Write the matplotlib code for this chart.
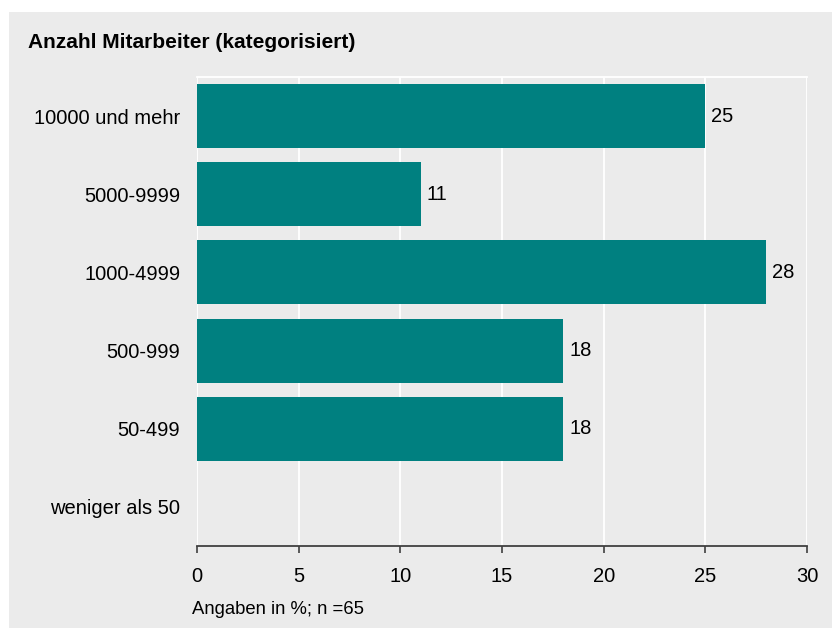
import matplotlib.pyplot as plt
from matplotlib.patches import Rectangle

plt.rcParams['font.family'] = ['Liberation Sans', 'DejaVu Sans']

# data, top to bottom
categories = ["10000 und mehr", "5000-9999", "1000-4999", "500-999", "50-499", "weniger als 50"]
values = [25, 11, 28, 18, 18, 0]
x_ticks = [0, 5, 10, 15, 20, 25, 30]

bg = '#ebebeb'
teal = '#008080'

fig = plt.figure(figsize=(8.32, 6.28), dpi=100)
fig.patch.set_facecolor('white')
# grey panel behind everything
fig.patches.append(Rectangle((9 / 832, 0), 1 - 9 / 832, (628 - 12) / 628,
                             transform=fig.transFigure, facecolor=bg,
                             edgecolor='none', zorder=-10))

ax = fig.add_axes([197 / 832, 1 - 546 / 628, (807 - 197) / 832, (546 - 77) / 628])
ax.set_facecolor(bg)

pos = list(range(len(categories)))
ax.barh(pos, values, height=0.82, color=teal, zorder=3)
for p, v in zip(pos, values):
    if v > 0:
        ax.text(v + 0.3, p, str(v), va='center', ha='left', fontsize=14.5, zorder=4)

ax.set_xlim(0, 30)
ax.set_ylim(len(categories) - 0.5, -0.5)
ax.set_yticks(pos)
ax.set_yticklabels(categories, fontsize=14.5)
ax.set_xticks(x_ticks)
ax.set_xticklabels([str(t) for t in x_ticks], fontsize=14.5)
ax.tick_params(axis='y', length=0, pad=12)
ax.tick_params(axis='x', length=5, width=1.2, color='#404040', pad=10, direction='out')

ax.grid(axis='x', color='white', linewidth=1.3, zorder=0)
ax.set_axisbelow(True)
for s in ['left', 'right']:
    ax.spines[s].set_visible(False)
ax.spines['top'].set_color('white')
ax.spines['top'].set_linewidth(1.3)
ax.spines['bottom'].set_color('#404040')
ax.spines['bottom'].set_linewidth(1.3)

fig.text(28 / 832, 1 - 43 / 628, "Anzahl Mitarbeiter (kategorisiert)",
         fontsize=15, fontweight='bold', va='center', ha='left')
fig.text(192 / 832, 1 - 610 / 628, "Angaben in %; n =65",
         fontsize=13.3, va='center', ha='left')

fig.savefig('out.png', dpi=100)
